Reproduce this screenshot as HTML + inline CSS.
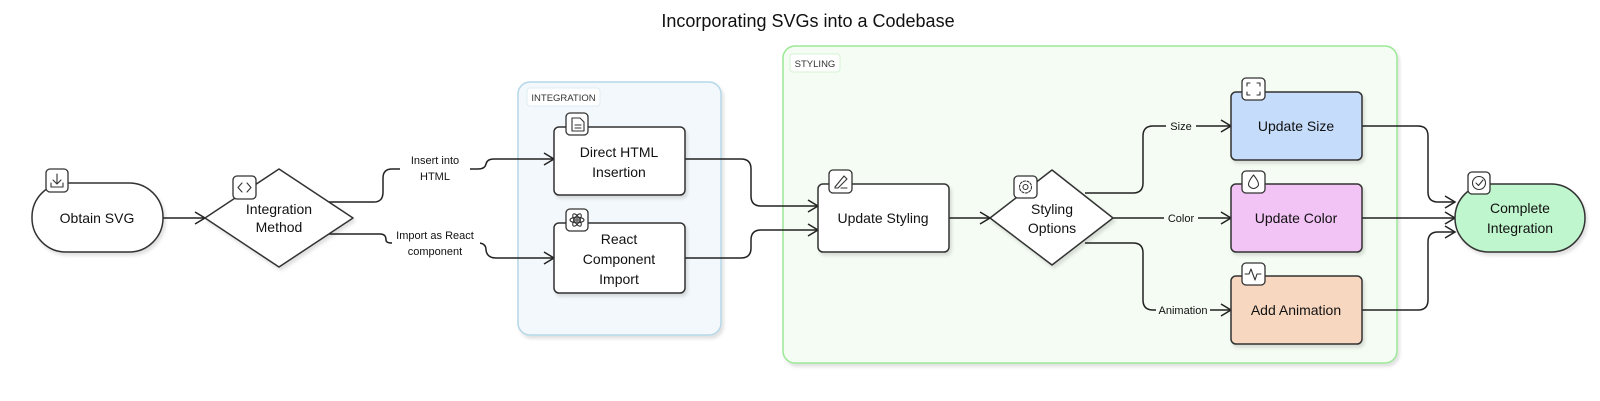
<!DOCTYPE html>
<html><head><meta charset="utf-8"><style>
html,body{margin:0;padding:0;background:#fff;}
svg{display:block;font-family:"Liberation Sans",Arial,sans-serif;}
</style></head><body>
<svg width="1600" height="401" viewBox="0 0 1600 401" xmlns="http://www.w3.org/2000/svg">
<defs>
<filter id="sh" x="-10%" y="-10%" width="130%" height="130%"><feDropShadow dx="2" dy="3" stdDeviation="1.5" flood-color="#000" flood-opacity="0.12"/></filter>
</defs>
<text x="808" y="27" text-anchor="middle" font-size="18" fill="#111">Incorporating SVGs into a Codebase</text>

<!-- groups -->
<rect x="518" y="82" width="203" height="253" rx="12" fill="#f3f8fc" stroke="#b5d7e8" stroke-width="1.5" filter="url(#sh)"/>
<rect x="527" y="88" width="73" height="18" rx="3" fill="#fff" stroke="#dcecf3"/>
<text x="563.5" y="101" text-anchor="middle" font-size="9.5" fill="#333">INTEGRATION</text>
<rect x="783" y="46" width="614" height="317" rx="12" fill="#f4fcf3" stroke="#9be896" stroke-width="1.5" filter="url(#sh)"/>
<rect x="790" y="54" width="50" height="18" rx="3" fill="#fff" stroke="#d6f3d3"/>
<text x="815" y="67" text-anchor="middle" font-size="9.5" fill="#333">STYLING</text>

<!-- connectors -->
<g fill="none" stroke="#222" stroke-width="1.5">
<path d="M163,218 H205"/>
<path d="M329,202 H374 Q383,202 383,192 V178 Q383,169 392,169 H478 Q485,169 486,164 Q487,159 494,159 H554"/>
<path d="M329,234 H380 Q386,234 386,240 Q386,243 392,243 H478 Q486,243 486,250 Q487,258 496,258 H554"/>
<path d="M685,159 H741 Q751,159 751,169 V196 Q751,206 761,206 H818"/>
<path d="M685,258 H741 Q751,258 751,248 V240 Q751,230 761,230 H818"/>
<path d="M949,218 H990"/>
<path d="M1085,193 H1133 Q1143,193 1143,183 V136 Q1143,126 1153,126 H1231"/>
<path d="M1113,218 H1231"/>
<path d="M1085,243 H1133 Q1143,243 1143,253 V300 Q1143,310 1153,310 H1231"/>
<path d="M1362,126 H1418 Q1428,126 1428,136 V192 Q1428,202 1438,202 H1455"/>
<path d="M1362,218 H1455"/>
<path d="M1362,310 H1418 Q1428,310 1428,300 V242 Q1428,232 1438,232 H1455"/>
<!-- arrowheads -->
<path d="M195,212 L205,218 L195,224"/>
<path d="M544,153 L554,159 L544,165"/>
<path d="M544,252 L554,258 L544,264"/>
<path d="M808,200 L818,206 L808,212"/>
<path d="M808,224 L818,230 L808,236"/>
<path d="M980,212 L990,218 L980,224"/>
<path d="M1221,120 L1231,126 L1221,132"/>
<path d="M1221,212 L1231,218 L1221,224"/>
<path d="M1221,304 L1231,310 L1221,316"/>
<path d="M1445,196 L1455,202 L1445,208"/>
<path d="M1445,212 L1455,218 L1445,224"/>
<path d="M1445,226 L1455,232 L1445,238"/>
</g>

<!-- edge labels -->
<g font-size="11" fill="#111" text-anchor="middle">
<rect x="400" y="150" width="70" height="32" fill="#fff"/>
<text x="435" y="164">Insert into</text><text x="435" y="180">HTML</text>
<rect x="392" y="226" width="88" height="32" fill="#fff"/>
<text x="435" y="239">Import as React</text><text x="435" y="255">component</text>
<rect x="1166" y="119" width="30" height="14" fill="#f4fcf3"/>
<text x="1181" y="130">Size</text>
<rect x="1164" y="211" width="34" height="14" fill="#f4fcf3"/>
<text x="1181" y="222">Color</text>
<rect x="1156" y="303" width="54" height="14" fill="#f4fcf3"/>
<text x="1183" y="314">Animation</text>
</g>

<!-- nodes -->
<g stroke="#333" stroke-width="1.5" filter="url(#sh)">
<rect x="32" y="183" width="131" height="69" rx="34" fill="#fff"/>
<path d="M205,218 L279,169 L353,218 L279,267 Z" fill="#fff" stroke-linejoin="round"/>
<rect x="554" y="127" width="131" height="68" rx="5" fill="#fff"/>
<rect x="554" y="223" width="131" height="70" rx="5" fill="#fff"/>
<rect x="818" y="184" width="131" height="68" rx="5" fill="#fff"/>
<path d="M990,218 L1052,170 L1113,218 L1052,265 Z" fill="#fff" stroke-linejoin="round"/>
<rect x="1231" y="92" width="131" height="68" rx="5" fill="#c5dcfa"/>
<rect x="1231" y="184" width="131" height="68" rx="5" fill="#f2c3f5"/>
<rect x="1231" y="276" width="131" height="68" rx="5" fill="#f8d7c0"/>
<rect x="1455" y="184" width="130" height="68" rx="34" fill="#c0f6cd"/>
</g>

<g font-size="14" fill="#111" text-anchor="middle">
<text x="97" y="223">Obtain SVG</text>
<text x="279" y="214">Integration</text><text x="279" y="232">Method</text>
<text x="619" y="157">Direct HTML</text><text x="619" y="177">Insertion</text>
<text x="619" y="244">React</text><text x="619" y="264">Component</text><text x="619" y="284">Import</text>
<text x="883" y="223">Update Styling</text>
<text x="1052" y="214">Styling</text><text x="1052" y="233">Options</text>
<text x="1296" y="131">Update Size</text>
<text x="1296" y="223">Update Color</text>
<text x="1296" y="315">Add Animation</text>
<text x="1520" y="213">Complete</text><text x="1520" y="233">Integration</text>
</g>

<!-- icons -->
<g fill="#fff" stroke="#333" stroke-width="1.3">
<rect x="46" y="169" width="22" height="23" rx="4"/>
<rect x="233" y="176" width="23" height="23" rx="4"/>
<rect x="566" y="113" width="22" height="22" rx="4"/>
<rect x="566" y="209" width="22" height="22" rx="4"/>
<rect x="829" y="170" width="23" height="23" rx="4"/>
<rect x="1014" y="176" width="23" height="22" rx="4"/>
<rect x="1242" y="78" width="23" height="22" rx="4"/>
<rect x="1242" y="171" width="23" height="22" rx="4"/>
<rect x="1242" y="263" width="23" height="22" rx="4"/>
<rect x="1468" y="172" width="22" height="22" rx="4"/>
</g>
<g fill="none" stroke="#333" stroke-width="1.1" stroke-linecap="round" stroke-linejoin="round">
<path d="M57,174 V183 M53,180 L57,184 L61,180 M51,183 V187 H63 V183"/>
<path d="M242,183 L238,187.5 L242,192 M247,183 L251,187.5 L247,192"/>
<path d="M572,118 H580 L584,122 V131 H572 Z M575,125 H581 M575,128 H581"/>
<circle cx="577" cy="220" r="1.2"/>
<ellipse cx="577" cy="220" rx="7" ry="2.8"/>
<ellipse cx="577" cy="220" rx="7" ry="2.8" transform="rotate(60 577 220)"/>
<ellipse cx="577" cy="220" rx="7" ry="2.8" transform="rotate(-60 577 220)"/>
<path d="M835,187 L844,176 L847,179 L838,188 L835,188 Z M841,188 H847"/>
<circle cx="1025.5" cy="187" r="2.5"/>
<circle cx="1025.5" cy="187" r="6" stroke-dasharray="2.2 1.5"/>
<path d="M1247,86 V83 H1250 M1257,83 H1260 V86 M1260,92 V95 H1257 M1250,95 H1247 V92"/>
<path d="M1253.5,175 Q1247,183 1249,186 Q1253.5,191 1258,186 Q1260,183 1253.5,175 Z"/>
<path d="M1245,274 H1249 L1251,269 L1255,280 L1257,274 H1261"/>
<circle cx="1479" cy="183" r="6.5"/>
<path d="M1476,183 L1478.5,185.5 L1483,180"/>
</g>
</svg>
</body></html>
